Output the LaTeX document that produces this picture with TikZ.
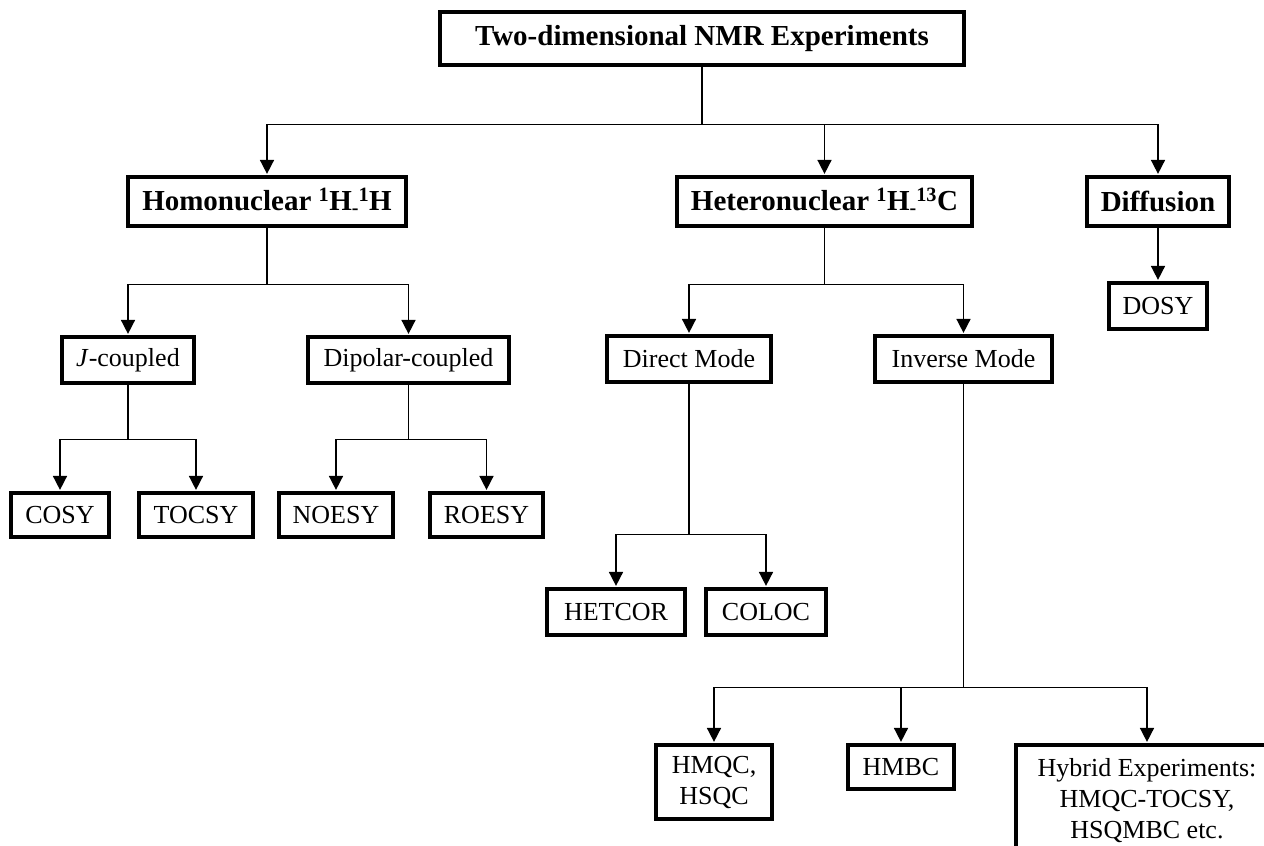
\documentclass[tikz,border=0pt]{standalone}
\usepackage{fontspec}
\setmainfont{Liberation Serif}
\usetikzlibrary{arrows.meta}
\newcommand{\hy}{\raisebox{-0.12em}{\fontsize{20}{20}\selectfont -}}
\begin{document}
\begin{tikzpicture}[x=1pt,y=-1pt,
  box/.style={draw, line width=3.2pt, inner sep=0pt, align=center},
  big/.style={box, font=\fontsize{29}{34}\selectfont\bfseries},
  mid/.style={box, font=\fontsize{29}{34}\selectfont\bfseries},
  small/.style={box, font=\fontsize{26}{31}\selectfont},
  con/.style={line width=1.6pt},
  arr/.style={con, -{Triangle[width=14pt,length=14pt]}, shorten >=1.5pt}]
\useasboundingbox[fill=white] (0,0) rectangle (1264,846);
% level 1
\node[big, minimum width=524pt, minimum height=53pt] (title) at (702,38.5) {Two-dimensional NMR Experiments};
% level 2
\node[mid, minimum width=278pt, minimum height=49pt] (homo) at (267,201.5) {Homonuclear \textsuperscript{1}H\hy\textsuperscript{1}H};
\node[mid, minimum width=295pt, minimum height=49pt] (hetero) at (824.5,201.5) {Heteronuclear \textsuperscript{1}H\hy\textsuperscript{13}C};
\node[mid, minimum width=142pt, minimum height=49pt] (diff) at (1158,201.5) {Diffusion};
% level 3
\node[small, minimum width=132pt, minimum height=46pt] (jc) at (128,360) {\textit{J}-coupled};
\node[small, minimum width=201pt, minimum height=46pt] (dip) at (408.5,360) {Dipolar-coupled};
\node[small, minimum width=164pt, minimum height=46pt] (direct) at (689,359) {Direct Mode};
\node[small, minimum width=177pt, minimum height=46pt] (inverse) at (963.5,359) {Inverse Mode};
\node[small, minimum width=98pt, minimum height=46pt] (dosy) at (1158,306) {DOSY};
% level 4
\node[small, minimum width=98pt, minimum height=44pt] (cosy) at (60,515) {COSY};
\node[small, minimum width=114pt, minimum height=44pt] (tocsy) at (196,515) {TOCSY};
\node[small, minimum width=114pt, minimum height=44pt] (noesy) at (336,515) {NOESY};
\node[small, minimum width=113pt, minimum height=44pt] (roesy) at (486.5,515) {ROESY};
\node[small, minimum width=138pt, minimum height=46pt] (hetcor) at (616,612) {HETCOR};
\node[small, minimum width=120pt, minimum height=46pt] (coloc) at (766,612) {COLOC};
\node[small, minimum width=116pt, minimum height=74pt] (hmqc) at (714,782) {HMQC,\\HSQC};
\node[small, minimum width=106pt, minimum height=44pt] (hmbc) at (901,767) {HMBC};
\node[small, minimum width=262pt, minimum height=111pt] (hybrid) at (1147,800.5) {Hybrid Experiments:\\HMQC-TOCSY,\\HSQMBC etc.};
% connectors
\draw[arr] (title.south) -- ++(0,58) -| (homo.north);
\draw[arr] (title.south) -- ++(0,58) -| (hetero.north);
\draw[arr] (title.south) -- ++(0,58) -| (diff.north);
\draw[arr] (homo.south) -- ++(0,57) -| (jc.north);
\draw[arr] (homo.south) -- ++(0,57) -| (dip.north);
\draw[arr] (jc.south) -- ++(0,55) -| (cosy.north);
\draw[arr] (jc.south) -- ++(0,55) -| (tocsy.north);
\draw[arr] (dip.south) -- ++(0,55) -| (noesy.north);
\draw[arr] (dip.south) -- ++(0,55) -| (roesy.north);
\draw[arr] (hetero.south) -- ++(0,57) -| (direct.north);
\draw[arr] (hetero.south) -- ++(0,57) -| (inverse.north);
\draw[arr] (diff.south) -- (dosy.north);
\draw[arr] (direct.south) -- ++(0,151) -| (hetcor.north);
\draw[arr] (direct.south) -- ++(0,151) -| (coloc.north);
\draw[arr] (inverse.south) -- ++(0,304) -| (hmqc.north);
\draw[arr] (inverse.south) -- ++(0,304) -| (hmbc.north);
\draw[arr] (inverse.south) -- ++(0,304) -| (hybrid.north);
\end{tikzpicture}
\end{document}
